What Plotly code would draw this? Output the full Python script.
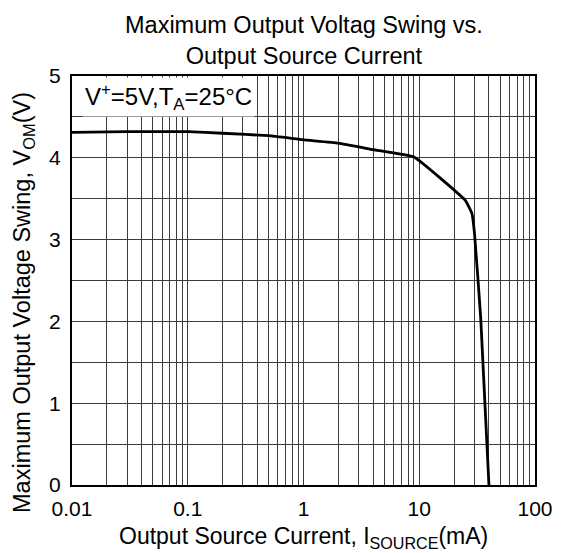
import plotly.graph_objects as go

# Data
current_ma = [0.01, 0.03, 0.1, 0.2, 0.5, 1, 2, 4, 9, 25, 28.5, 30, 34, 40]
vom_v = [4.31, 4.32, 4.32, 4.30, 4.27, 4.22, 4.18, 4.10, 4.01, 3.48, 3.32, 3.08, 2.03, 0.0]

x_decades = [0.01, 0.1, 1, 10, 100]
x_tick_labels = ["0.01", "0.1", "1", "10", "100"]
y_major = [0, 1, 2, 3, 4, 5]

# grid tick positions (1..9 per decade), labels only at decades
xtickvals, xticktext = [], []
for i, d in enumerate(x_decades[:-1]):
    for m in range(1, 10):
        xtickvals.append(d * m)
        xticktext.append(x_tick_labels[i] if m == 1 else "")
xtickvals.append(x_decades[-1])
xticktext.append(x_tick_labels[-1])

ytickvals = [i * 0.5 for i in range(11)]
yticktext = [str(int(v)) if v in y_major else "" for v in ytickvals]

font = "Liberation Sans, Arial, sans-serif"
L, R, T, B = 72, 21, 76, 68
W, H = 565, 553
pw, ph = W - L - R, H - T - B


def px_x(px):
    return (px - L) / pw


def px_y(py):
    return (H - B - py) / ph


fig = go.Figure()
fig.add_trace(go.Scatter(x=current_ma, y=vom_v, mode="lines",
                         line=dict(color="black", width=2.8, shape="spline", smoothing=0.3),
                         showlegend=False))

fig.update_layout(
    width=W, height=H,
    margin=dict(l=L, r=R, t=T, b=B),
    paper_bgcolor="white", plot_bgcolor="white",
    font=dict(family=font, color="black"),
    xaxis=dict(type="log", range=[-2, 2], tickvals=xtickvals, ticktext=xticktext,
               showgrid=True, gridcolor="#3c3c3c", gridwidth=1,
               showline=True, linecolor="black", linewidth=2, mirror=True,
               ticks="", tickfont=dict(size=21), zeroline=False,
               ticklabelstandoff=4),
    yaxis=dict(range=[0, 5], tickvals=ytickvals, ticktext=yticktext,
               showgrid=True, gridcolor="#3c3c3c", gridwidth=1,
               showline=True, linecolor="black", linewidth=2, mirror=True,
               ticks="", tickfont=dict(size=21), zeroline=False,
               ticklabelstandoff=5),
)

# chart title (two lines)
fig.add_annotation(x=0.5, y=1, xref="paper", yref="paper",
                   xanchor="center", yanchor="bottom", yshift=5, showarrow=False,
                   text="Maximum Output Voltag Swing vs.<br>Output Source Current",
                   font=dict(size=23.5, family=font, color="black"))

# axis titles
fig.add_annotation(x=0.5, y=px_y(537), xref="paper", yref="paper",
                   xanchor="center", yanchor="middle", showarrow=False,
                   text="Output Source Current, I<sub>SOURCE</sub>(mA)",
                   font=dict(size=23, family=font, color="black"))
fig.add_annotation(x=px_x(22), y=px_y(302), xref="paper", yref="paper",
                   xanchor="center", yanchor="middle", showarrow=False, textangle=-90,
                   text="Maximum Output Voltage Swing, V<sub>OM</sub>(V)",
                   font=dict(size=23.5, family=font, color="black"))

# condition label in top-left corner
fig.add_annotation(x=0, y=1, xref="paper", yref="paper", xanchor="left", yanchor="top",
                   text="V<sup>+</sup>=5V,T<sub>A</sub>=25°C", showarrow=False,
                   font=dict(size=24, family=font, color="black"),
                   bgcolor="white", borderpad=2, xshift=10, yshift=-1)

fig.write_html("out.html", config={"displayModeBar": False},
               post_script="document.body.style.margin='0';document.body.style.padding='0';")
